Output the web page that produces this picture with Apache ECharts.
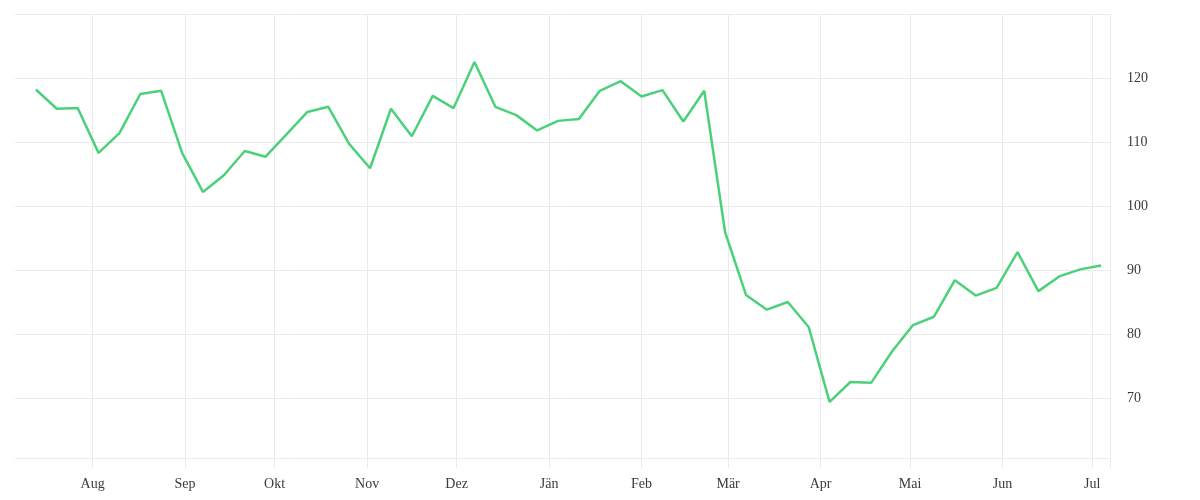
<!DOCTYPE html>
<html>
<head>
<meta charset="utf-8">
<script src="https://cdn.jsdelivr.net/npm/echarts@6/dist/echarts.min.js"></script>
<style>
  html, body { margin: 0; padding: 0; background: #fff; }
  #chart { width: 1200px; height: 500px; }
</style>
</head>
<body>
<div id="chart"></div>
<script>
const dates = [
  '2019-07-13','2019-07-20','2019-07-27','2019-08-03','2019-08-10','2019-08-17','2019-08-24','2019-08-31',
  '2019-09-07','2019-09-14','2019-09-21','2019-09-28','2019-10-05','2019-10-12','2019-10-19','2019-10-26',
  '2019-11-02','2019-11-09','2019-11-16','2019-11-23','2019-11-30','2019-12-07','2019-12-14','2019-12-21',
  '2019-12-28','2020-01-04','2020-01-11','2020-01-18','2020-01-25','2020-02-01','2020-02-08','2020-02-15',
  '2020-02-22','2020-02-29','2020-03-07','2020-03-14','2020-03-21','2020-03-28','2020-04-04','2020-04-11',
  '2020-04-18','2020-04-25','2020-05-02','2020-05-09','2020-05-16','2020-05-23','2020-05-30','2020-06-06',
  '2020-06-13','2020-06-20','2020-06-27','2020-07-04'
];
const values = [
  118.2, 115.2, 115.3, 108.3, 111.4, 117.5, 118.0, 108.3,
  102.2, 104.8, 108.6, 107.7, 111.2, 114.7, 115.5, 109.7,
  105.9, 115.2, 110.9, 117.2, 115.3, 122.5, 115.5, 114.2,
  111.8, 113.3, 113.6, 118.0, 119.5, 117.1, 118.1, 113.2,
  118.0, 95.9, 86.1, 83.8, 85.0, 81.1, 69.4, 72.5,
  72.4, 77.3, 81.4, 82.7, 88.4, 86.0, 87.2, 92.8,
  86.7, 89.0, 90.1, 90.7
];
const monthTicks = [
  '2019-08-01','2019-09-01','2019-10-01','2019-11-01','2019-12-01','2020-01-01',
  '2020-02-01','2020-03-01','2020-04-01','2020-05-01','2020-06-01','2020-07-01'
];
const monthLabels = ['Aug','Sep','Okt','Nov','Dez','Jän','Feb','Mär','Apr','Mai','Jun','Jul'];
const yTickLabels = [70, 80, 90, 100, 110, 120];
const xMin = '2019-07-06';
const xMax = '2020-07-07';
const yMin = 60.625;
const yMax = 130;

function ts(s) {
  const p = s.split('-').map(Number);
  return Date.UTC(p[0], p[1] - 1, p[2]);
}
const monthTimes = monthTicks.map(ts);
const gridColor = '#ebebeb';
const font = '"Liberation Serif", "Times New Roman", serif';

const chart = echarts.init(document.getElementById('chart'), null, { renderer: 'canvas' });
chart.setOption({
  animation: false,
  grid: { left: 15, right: 90, top: 14, bottom: 42, containLabel: false },
  xAxis: {
    type: 'value',
    min: ts(xMin),
    max: ts(xMax),
    axisLine: { show: false },
    axisTick: {
      show: true, length: 10, inside: false,
      lineStyle: { color: gridColor, width: 1 },
      customValues: monthTimes.concat([ts(xMax)])
    },
    splitLine: { show: true, lineStyle: { color: gridColor, width: 1 } },
    axisLabel: {
      customValues: monthTimes,
      margin: 19,
      color: '#3a3a3a',
      fontFamily: font,
      fontSize: 14,
      formatter: function (v) {
        const i = monthTimes.indexOf(v);
        return i >= 0 ? monthLabels[i] : '';
      }
    }
  },
  yAxis: {
    type: 'value',
    position: 'right',
    min: yMin,
    max: yMax,
    axisLine: { show: true, lineStyle: { color: gridColor, width: 1 } },
    axisTick: { show: false },
    splitLine: { show: true, lineStyle: { color: gridColor, width: 1 } },
    axisLabel: {
      customValues: yTickLabels,
      margin: 17,
      padding: [5, 0, 0, 0],
      backgroundColor: 'rgba(255,255,255,0)',
      color: '#3a3a3a',
      fontFamily: font,
      fontSize: 14
    }
  },
  series: [{
    type: 'line',
    data: dates.map((d, i) => [ts(d), values[i]]),
    showSymbol: false,
    symbol: 'none',
    lineStyle: { color: '#4cd17b', width: 2.5 },
    itemStyle: { color: '#4cd17b' }
  }]
});
</script>
</body>
</html>
